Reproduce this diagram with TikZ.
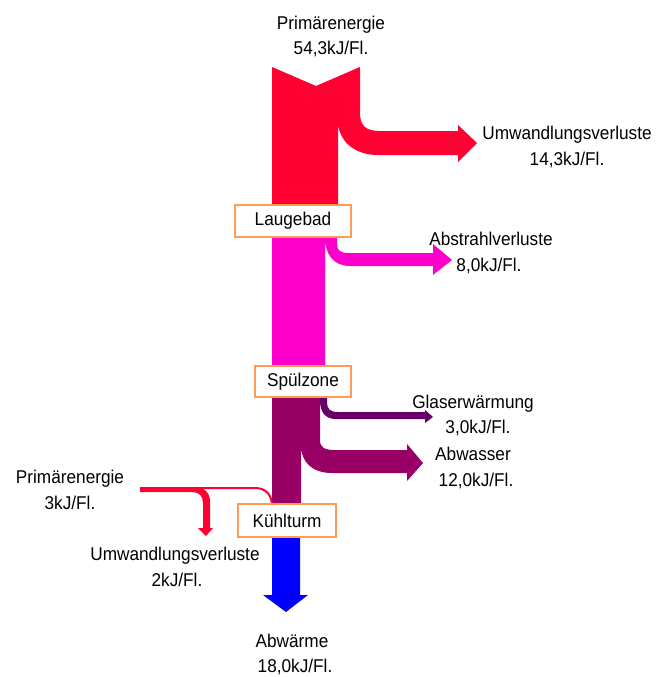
\documentclass[tikz,border=0pt]{standalone}
\usepackage{fontspec}
\setmainfont[FakeStretch=0.93]{Liberation Sans}
\definecolor{redc}{HTML}{FF0033}
\definecolor{magc}{HTML}{FF00CC}
\definecolor{purc}{HTML}{990066}
\definecolor{dpur}{HTML}{660066}
\definecolor{bluec}{HTML}{0000FF}
\definecolor{boxline}{HTML}{FF9A57}
\tikzset{
  lab/.style={font=\fontsize{18.5}{22}\selectfont, inner sep=0pt, anchor=base},
  stagebox/.style={draw=boxline, line width=1.2pt, fill=white, inner sep=0pt,
    font=\fontsize{18.5}{22}\selectfont},
}
\begin{document}
\begin{tikzpicture}[x=1pt,y=-1pt]
\useasboundingbox (0,0) rectangle (664,677);
% red (Primärenergie -> Laugebad, Umwandlungsverluste)
\fill[redc] (272,67) -- (316,86) -- (360,67) -- (360,113)
  .. controls (360,126) and (366,131) .. (380,131) -- (458,131) -- (458,125)
  -- (477,143) -- (458,162) -- (458,155) -- (378,155)
  .. controls (355,155) and (340,142) .. (338,124) -- (338,215) -- (272,215) -- cycle;
% magenta
\fill[magc] (272,228) -- (337,228) -- (337,244)
  .. controls (337,250) and (340,253) .. (348,253) -- (433,253) -- (433,244)
  -- (452,260) -- (433,275) -- (433,266) -- (350,266)
  .. controls (334,266) and (325,255) .. (325,237) -- (325,375) -- (272,375) -- cycle;
% purple
\fill[purc] (272,390) -- (320,390) -- (320,440)
  .. controls (320,447) and (324,450) .. (334,450) -- (407,450) -- (407,444)
  -- (423,463) -- (407,481) -- (407,473) -- (332,473)
  .. controls (312,473) and (301,462) .. (301,445) -- (301,512) -- (272,512) -- cycle;
% Glaserwaermung branch
\fill[dpur] (320,390) -- (327,390) -- (327,402)
  .. controls (327,409) and (330,412) .. (338,412) -- (425,412) -- (425,410)
  -- (433,417) -- (425,423) -- (425,419) -- (336,419)
  .. controls (325,419) and (320,412) .. (320,400) -- cycle;
% blue
\fill[bluec] (272,530) -- (300,530) -- (300,595) -- (308,595) -- (286,612)
  -- (263,595) -- (272,595) -- cycle;
% small red input
\fill[redc] (140,487) -- (193,487) .. controls (204,487) and (210,492) .. (210,502)
  -- (210,528) -- (213,528) -- (206,536) -- (198,528) -- (203,528) -- (203,503)
  .. controls (203,496) and (199,492) .. (192,492) -- (140,492) -- cycle;
\draw[redc, line width=2pt] (192,488) -- (255,488) .. controls (266,488) and (272,495) .. (272,506);
% boxes
\node[stagebox, minimum width=116pt, minimum height=32pt] (laug) at (293,221) {Laugebad};
\node[stagebox, minimum width=96pt, minimum height=31pt] (spul) at (303,381.5) {Spülzone};
\node[stagebox, minimum width=98pt, minimum height=33pt] (kuhl) at (287,520.5) {Kühlturm};
% labels
\node[lab] (p1) at (331,30) {Primärenergie};
\node[lab] (p1v) at (331,55) {54,3kJ/Fl.};
\node[lab] (u1) at (567,139) {Umwandlungsverluste};
\node[lab] (u1v) at (567,165) {14,3kJ/Fl.};
\node[lab] (a1) at (491,245) {Abstrahlverluste};
\node[lab] (a1v) at (489,271) {8,0kJ/Fl.};
\node[lab] (g1) at (473,408) {Glaserwärmung};
\node[lab] (g1v) at (478,433) {3,0kJ/Fl.};
\node[lab] (w1) at (473,460) {Abwasser};
\node[lab] (w1v) at (476,486) {12,0kJ/Fl.};
\node[lab] (p2) at (70,483) {Primärenergie};
\node[lab] (p2v) at (70,509) {3kJ/Fl.};
\node[lab] (u2) at (175,560) {Umwandlungsverluste};
\node[lab] (u2v) at (177,586) {2kJ/Fl.};
\node[lab] (h1) at (292,647) {Abwärme};
\node[lab] (h1v) at (295,672) {18,0kJ/Fl.};
\end{tikzpicture}
\end{document}
